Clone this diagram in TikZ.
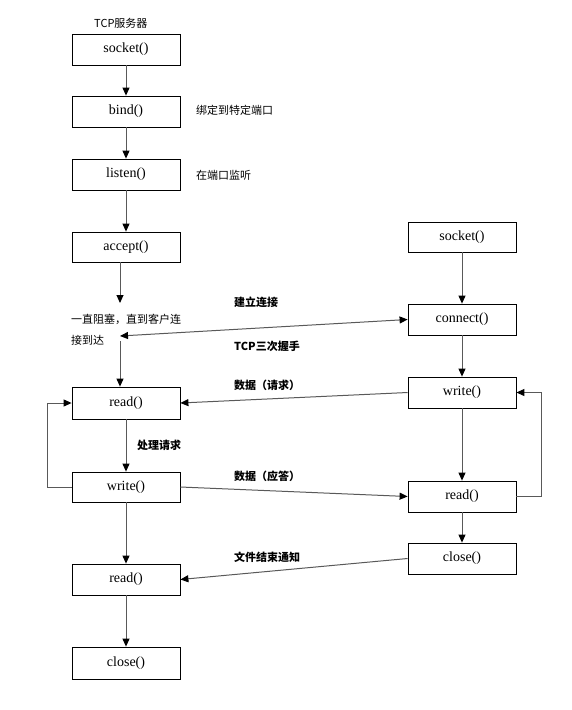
\documentclass[tikz,border=0pt]{standalone}
\usepackage{fontspec}
\setmainfont{Liberation Serif}
\newfontfamily\cjk{Noto Sans CJK SC}
\usetikzlibrary{arrows.meta}
\tikzset{
  box/.style={draw=black, line width=0.8pt, fill=white, minimum width=108pt, inner sep=0pt, font=\fontsize{14}{16}\selectfont},
  conn/.style={draw=black!65, line width=1pt, -{Triangle[width=7pt,length=8pt,fill=black,color=black]}},
  dconn/.style={draw=black!65, line width=1pt, {Triangle[width=7pt,length=8pt,fill=black,color=black]}-{Triangle[width=7pt,length=8pt,fill=black,color=black]}},
  lab/.style={anchor=west, inner sep=0pt, font=\cjk\fontsize{11}{13}\selectfont},
  blab/.style={anchor=west, inner sep=0pt, font=\cjk\bfseries\fontsize{11}{13}\selectfont},
}
\begin{document}
\begin{tikzpicture}[x=1pt,y=-1pt]
\useasboundingbox (0,0) rectangle (571,710);
% server column
\node[box, minimum height=31pt] (s1) at (126,49.5) {socket()};
\node[box, minimum height=31pt] (bind) at (126,111.5) {bind()};
\node[box, minimum height=31pt] (listen) at (126,174.5) {listen()};
\node[box, minimum height=30pt] (accept) at (126,247) {accept()};
\node[box, minimum height=32pt] (read1) at (126,403) {read()};
\node[box, minimum height=30pt] (write1) at (126,487) {write()};
\node[box, minimum height=31pt] (read2) at (126,579.5) {read()};
\node[box, minimum height=32pt] (close1) at (126,663) {close()};
% client column
\node[box, minimum height=30pt] (s2) at (462,237) {socket()};
\node[box, minimum height=31pt] (connect) at (462,319.5) {connect()};
\node[box, minimum height=31pt] (write2) at (462,392.5) {write()};
\node[box, minimum height=31pt] (read3) at (462,496.5) {read()};
\node[box, minimum height=31pt] (close2) at (462,558.5) {close()};
% labels
\node[lab] (title) at (94,23) {TCP服务器};
\node[lab] (lbind) at (196,110) {绑定到特定端口};
\node[lab] (llisten) at (196,175) {在端口监听};
\node[lab] (lblock1) at (71,319) {一直阻塞，直到客户连};
\node[lab] (lblock2) at (71,340) {接到达};
\node[blab] (lconn) at (234,302) {建立连接};
\node[blab] (lhand) at (234,346) {TCP三次握手};
\node[blab] (lreq) at (234,385) {数据（请求）};
\node[blab] (lproc) at (137,445) {处理请求};
\node[blab] (lresp) at (234,476) {数据（应答）};
\node[blab] (leof) at (234,557) {文件结束通知};
% coordinates
\coordinate (blk) at (120,303);
\coordinate (blkin) at (120,336);
\coordinate (blkout) at (120,341);
% server arrows
\draw[conn] (s1) -- (bind);
\draw[conn] (bind) -- (listen);
\draw[conn] (listen) -- (accept);
\draw[conn] ([xshift=-6pt]accept.south) -- (blk);
\draw[conn] (blkout) -- ([xshift=-6pt]read1.north);
\draw[conn] (read1) -- (write1);
\draw[conn] (write1) -- (read2);
\draw[conn] (read2) -- (close1);
\draw[conn] (write1.west) -- ++(-24,0) |- (read1.west);
% client arrows
\draw[conn] (s2) -- (connect);
\draw[conn] (connect) -- (write2);
\draw[conn] (write2) -- (read3);
\draw[conn] (read3) -- (close2);
\draw[conn] (read3.east) -- ++(25,0) |- (write2.east);
% cross arrows
\draw[dconn] (blkin) -- (connect.west);
\draw[conn] (write2.west) -- (read1.east);
\draw[conn] (write1.east) -- (read3.west);
\draw[conn] (close2.west) -- (read2.east);
\end{tikzpicture}
\end{document}
